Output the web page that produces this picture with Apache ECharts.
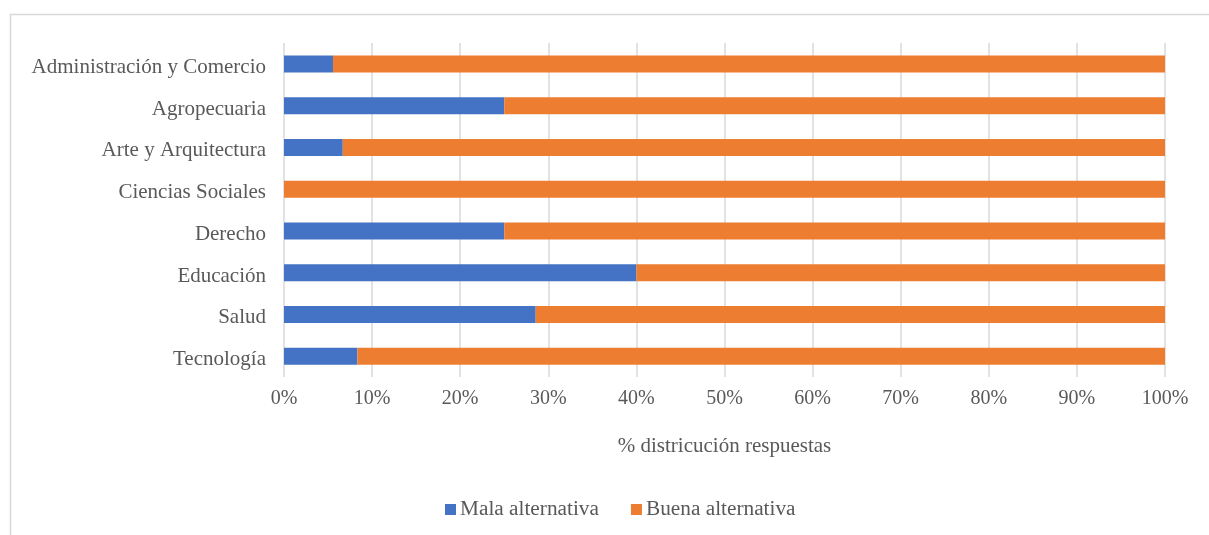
<!DOCTYPE html>
<html>
<head>
<meta charset="utf-8">
<script src="https://cdn.jsdelivr.net/npm/echarts@6/dist/echarts.min.js"></script>
<style>
  html, body { margin: 0; padding: 0; background: #ffffff; }
  #chart { width: 1209px; height: 535px; }
</style>
</head>
<body>
<div id="chart"></div>
<script>
// Areas of study, top to bottom
const categories = [
  'Administración y Comercio',
  'Agropecuaria',
  'Arte y Arquitectura',
  'Ciencias Sociales',
  'Derecho',
  'Educación',
  'Salud',
  'Tecnología'
];
// Share of responses (%) per area
const malaAlternativa = [5.56, 25, 6.67, 0, 25, 40, 28.57, 8.33];
const buenaAlternativa = [94.44, 75, 93.33, 100, 75, 60, 71.43, 91.67];
const seriesNames = ['Mala alternativa', 'Buena alternativa'];
const axisTitle = '% districución respuestas';

const FONT = '"Liberation Serif", "Times New Roman", serif';
const TEXT = '#595959';

const chart = echarts.init(document.getElementById('chart'), null, { renderer: 'canvas' });
chart.setOption({
  animation: false,
  textStyle: { fontFamily: FONT },
  graphic: [{
    type: 'rect',
    shape: { x: 10.5, y: 14.5, width: 1400, height: 800 },
    style: { fill: 'none', stroke: '#d9d9d9', lineWidth: 1.5 },
    silent: true
  }],
  grid: { left: 284, right: 44, top: 43, bottom: 158, containLabel: false },
  legend: {
    bottom: 10,
    left: 440,
    itemWidth: 11,
    itemHeight: 11,
    itemGap: 32,
    icon: 'rect',
    textStyle: { fontFamily: FONT, fontSize: 21.3, color: TEXT, padding: [0, 0, 0, -1] },
    data: seriesNames
  },
  xAxis: {
    type: 'value',
    min: 0,
    max: 100,
    interval: 10,
    name: axisTitle,
    nameLocation: 'middle',
    nameGap: 59,
    nameTextStyle: { fontFamily: FONT, fontSize: 21, color: TEXT },
    axisLine: { show: false },
    axisTick: { show: false },
    axisLabel: { fontFamily: FONT, fontSize: 20, color: TEXT, margin: 12, formatter: '{value}%' },
    splitLine: { show: true, lineStyle: { color: '#d9d9d9', width: 1.5 } }
  },
  yAxis: {
    type: 'category',
    inverse: true,
    data: categories,
    axisLine: { show: false },
    axisTick: { show: false },
    axisLabel: {
      margin: 18,
      formatter: '{c|{value}}',
      rich: {
        c: { fontFamily: FONT, fontSize: 21, color: TEXT, lineHeight: 28, verticalAlign: 'bottom' }
      }
    }
  },
  series: [
    {
      name: seriesNames[0],
      type: 'bar',
      stack: 'total',
      barWidth: 17,
      itemStyle: { color: '#4472C4' },
      data: malaAlternativa
    },
    {
      name: seriesNames[1],
      type: 'bar',
      stack: 'total',
      barWidth: 17,
      itemStyle: { color: '#ED7D31' },
      data: buenaAlternativa
    }
  ]
});
</script>
</body>
</html>
